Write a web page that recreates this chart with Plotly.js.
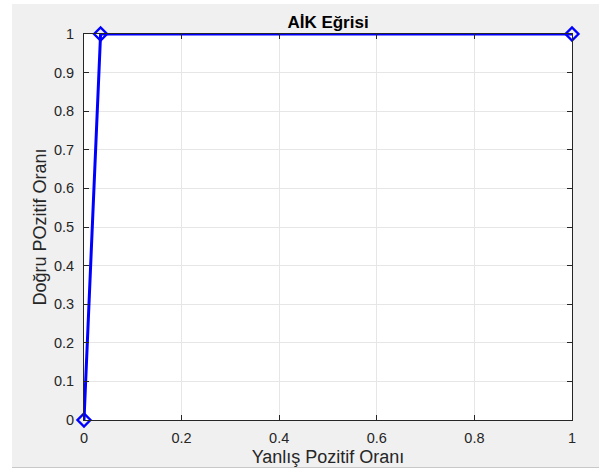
<!DOCTYPE html>
<html>
<head>
<meta charset="utf-8">
<script src="https://cdn.plot.ly/plotly-3.0.1.min.js"></script>
<style>
  html, body { margin: 0; padding: 0; background: #ffffff; width: 603px; height: 476px; overflow: hidden; }
  #chart { position: absolute; left: 12px; top: 4px; width: 587px; height: 463px; }
  #strip { position: absolute; left: 12px; top: 467px; width: 587px; height: 1px; background: #c8c8c8; }
</style>
</head>
<body>
<div id="chart"></div>
<div id="strip"></div>
<script>
const fpr = [0, 0.034, 1];
const tpr = [0, 1, 1];
const xTicks = [0, 0.2, 0.4, 0.6, 0.8, 1];
const xTickText = ['0', '0.2', '0.4', '0.6', '0.8', '1'];
const yTicks = [0, 0.1, 0.2, 0.3, 0.4, 0.5, 0.6, 0.7, 0.8, 0.9, 1];
const yTickText = ['0', '0.1', '0.2', '0.3', '0.4', '0.5', '0.6', '0.7', '0.8', '0.9', '1'];
const chartTitle = 'AİK Eğrisi';
const xTitle = 'Yanlış Pozitif Oranı';
const yTitle = 'Doğru POzitif Oranı';

const font = 'Liberation Sans, Arial, Helvetica, sans-serif';
const axisCol = '#262626';

const trace = {
  x: fpr, y: tpr,
  type: 'scatter', mode: 'lines+markers',
  line: { color: '#0000ff', width: 3 },
  marker: { symbol: 'diamond-open', size: 10, color: '#0000ff', line: { color: '#0000ff', width: 2.4 } },
  cliponaxis: false,
  hoverinfo: 'skip'
};

const axisCommon = {
  showline: true, linecolor: axisCol, linewidth: 1, mirror: 'ticks',
  ticks: 'inside', ticklen: 5, tickcolor: axisCol, tickwidth: 1,
  showgrid: true, gridcolor: '#e6e6e6', gridwidth: 1,
  zeroline: false, fixedrange: true,
  tickfont: { family: font, size: 14.5, color: axisCol }
};

const layout = {
  width: 587, height: 463,
  paper_bgcolor: '#f0f0f0', plot_bgcolor: '#ffffff',
  margin: { l: 72, r: 27, t: 30, b: 47, pad: 0 },
  showlegend: false,
  title: { text: '<b>' + chartTitle + '</b>', font: { family: font, size: 17, color: '#000000' },
           x: 0.5, xref: 'paper', xanchor: 'center', y: 1, yref: 'paper', yanchor: 'bottom', pad: { b: 6 } },
  xaxis: Object.assign({}, axisCommon, {
    range: [0, 1], tickvals: xTicks, ticktext: xTickText, ticklabelstandoff: 5,
    title: { text: xTitle, font: { family: font, size: 18, color: axisCol }, standoff: 9 }
  }),
  yaxis: Object.assign({}, axisCommon, {
    range: [0, 1], tickvals: yTicks, ticktext: yTickText, ticklabelstandoff: 6,
    title: { text: yTitle, font: { family: font, size: 18, color: axisCol }, standoff: 2 }
  })
};

Plotly.newPlot('chart', [trace], layout, { displayModeBar: false, staticPlot: true });
</script>
</body>
</html>
